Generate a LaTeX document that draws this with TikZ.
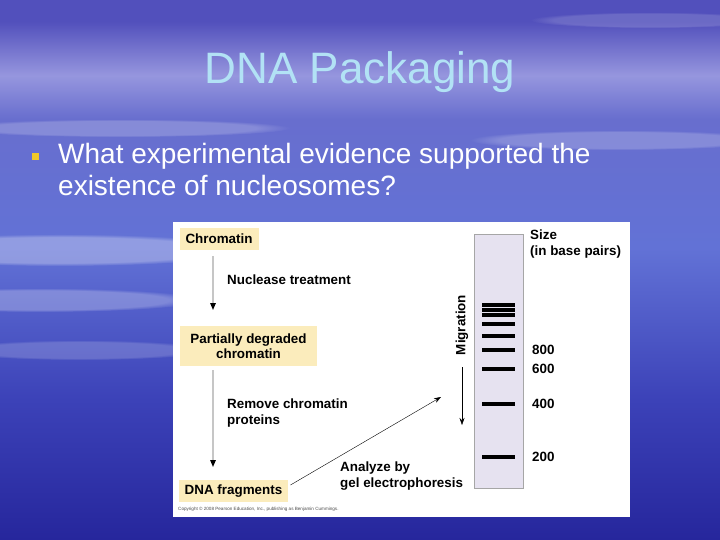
\documentclass[tikz,border=0pt]{standalone}
\usepackage{fontspec}
\setmainfont{Liberation Sans}
\usetikzlibrary{positioning,arrows.meta,fadings}

\definecolor{bgtop}{RGB}{82,80,188}
\definecolor{bglav}{RGB}{150,150,222}
\definecolor{bgblue}{RGB}{104,110,206}
\definecolor{bgmid}{RGB}{98,114,214}
\definecolor{bgmid2}{RGB}{60,66,184}
\definecolor{bgbot}{RGB}{38,38,156}
\definecolor{titleblue}{RGB}{178,226,245}
\definecolor{boxyellow}{RGB}{251,236,188}
\definecolor{gellav}{RGB}{230,226,240}
\definecolor{bulletyellow}{RGB}{240,200,40}

\pgfdeclareverticalshading{slidebg}{100bp}{color(0bp)=(bgbot); color(25bp)=(bgbot);
  color(38bp)=(bgmid2); color(52bp)=(bgmid); color(64bp)=(bgblue); color(68bp)=(bglav);
  color(73bp)=(bgtop); color(100bp)=(bgtop)}

\newcommand\diagfont{\bfseries\fontsize{13.4}{15.5}\selectfont}

\begin{document}
\begin{tikzpicture}[x=1pt, y=-1pt, >={Stealth[length=7pt, width=5pt]},
    stepbox/.style={fill=boxyellow, font=\diagfont, inner xsep=6pt, minimum height=22pt, align=center},
    steptext/.style={font=\diagfont, anchor=west, align=left, inner sep=0pt},
    flowline/.style={gray!45, line width=1.4pt, -{Triangle[black, length=7pt, width=5.5pt]}},
    streak/.style={white, path fading=circle with fuzzy edge 20 percent},
    band/.style={line width=3.6pt}]
  \useasboundingbox (0,0) rectangle (720,540);

  % slide background
  \shade[shading=slidebg] (0,0) rectangle (720,540);
  \fill[streak, opacity=0.30] (60,250) ellipse (190 and 16);
  \fill[streak, opacity=0.25] (40,300) ellipse (160 and 12);
  \fill[streak, opacity=0.20] (620,140) ellipse (150 and 10);
  \fill[streak, opacity=0.20] (120,128) ellipse (170 and 9);
  \fill[streak, opacity=0.18] (80,350) ellipse (130 and 10);
  \fill[streak, opacity=0.15] (650,20) ellipse (120 and 8);

  % title and bullet
  \node[text=titleblue, font=\fontsize{44}{50}\selectfont] (title) at (360,72) {DNA Packaging};
  \fill[bulletyellow] (31.5,153.5) rectangle (38.5,160.5);
  \node[text=white, anchor=north west, align=left, inner sep=0pt, font=\fontsize{28}{32}\selectfont] (question) at (58,143)
    {What experimental evidence supported the\\existence of nucleosomes?};

  % figure panel
  \fill[white] (173,222) rectangle (630,517);

  % flow on the left
  \node[stepbox] (chrom) at (219,239) {Chromatin};
  \node[stepbox, minimum width=137pt, minimum height=40pt] (partial) at (248.5,346) {Partially degraded\\chromatin};
  \node[stepbox] (frag) at (233.5,491) {DNA fragments};
  \coordinate (nucend) at (213,310);
  \coordinate (remend) at (213,467);
  \coordinate (gelend) at (441,397);
  \draw[flowline, shorten <=6pt] (chrom.south -| nucend) -- (nucend);
  \draw[flowline, shorten <=4pt] (partial.south -| remend) -- (remend);
  \draw[->, thin] (frag.east) ++(2,-6) -- (gelend);

  \node[steptext] (nuclease) at (227,280) {Nuclease treatment};
  \node[steptext] (remove) at (227,413) {Remove chromatin\\proteins};
  \node[steptext] (analyze) at (340,476) {Analyze by\\gel electrophoresis};

  % gel lane
  \draw[fill=gellav, draw=gray!70] (474,234) rectangle (523,488);
  \foreach \y in {305,310,315,324,336,350,369,404,457}
    \draw[band] (482,\y) -- (515,\y);

  % migration
  \node[font=\diagfont, rotate=90, inner sep=0pt] (migr) at (462,325) {Migration};
  \coordinate (migend) at (462,425);
  \draw[->, thin, shorten <=12pt] (migr.west) -- (migend);

  % sizes
  \node[steptext, anchor=north west] (size) at (530,230) {Size\\(in base pairs)};
  \node[steptext] (s800) at (532,350) {800};
  \node[steptext] (s600) at (532,369) {600};
  \node[steptext] (s400) at (532,404) {400};
  \node[steptext] (s200) at (532,457) {200};

  \node[anchor=west, inner sep=0pt, text=black!70, font=\fontsize{4.6}{5}\selectfont] (copy) at (178,509)
    {Copyright \textcopyright{} 2008 Pearson Education, Inc., publishing as Benjamin Cummings.};
\end{tikzpicture}
\end{document}
